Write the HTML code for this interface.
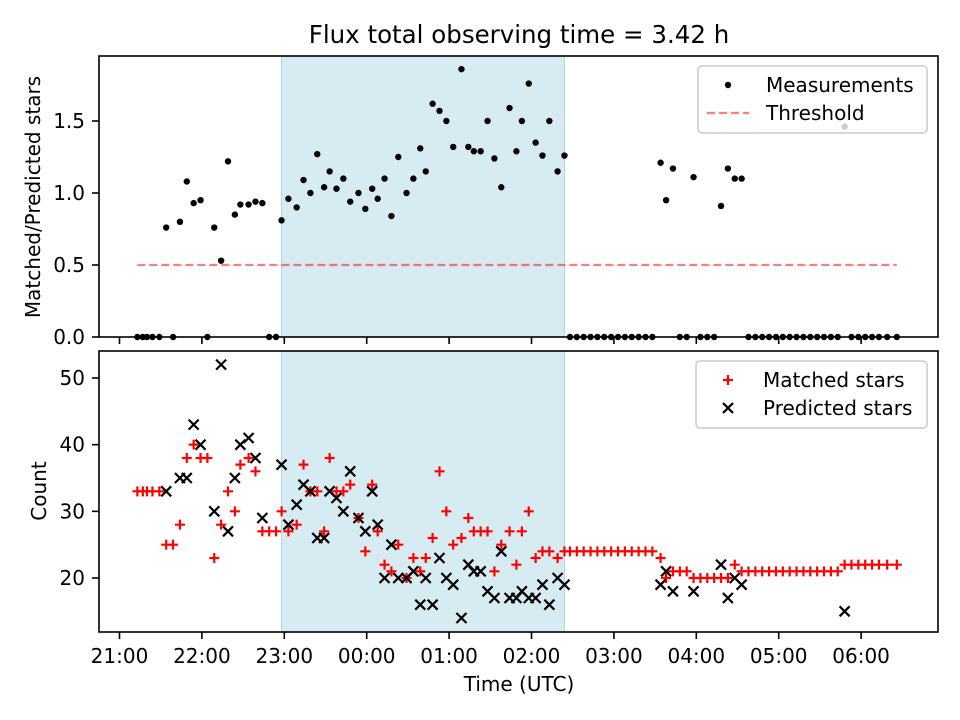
<!DOCTYPE html>
<html><head><meta charset="utf-8"><style>
html,body{margin:0;padding:0;background:#fff}
svg{display:block}
text{font-family:"DejaVu Sans","Liberation Sans",sans-serif;fill:#000}
</style></head><body>
<svg id="chart" width="960" height="720" viewBox="0 0 960 720" xmlns="http://www.w3.org/2000/svg">
<rect width="960" height="720" fill="#fff"/>
<text x="519" y="43" font-size="24.5" text-anchor="middle">Flux total observing time = 3.42 h</text>
<g id="topPanel"></g>
<g id="botPanel"></g>
</svg>
<script>
// minutes after 21:00 UTC
const times=[13,17,20,24,29,34,39,44,49,54,59,64,69,74,79,84,88,94,99,104,109,114,118,123,129,134,139,144,149,153,158,163,168,174,179,184,188,193,198,203,209,214,219,223,228,233,238,243,249,254,258,263,268,273,278,284,289,293,298,303,308,313,319,324,328,333,338,343,348,353,358,363,368,373,378,383,388,394,398,403,408,413,418,423,428,433,438,443,448,453,458,463,468,473,478,483,488,493,498,503,508,513,518,523,528,533,538,543,548,553,559,566];
const ratio=[0,0,0,0,0,0.76,0,0.80,1.08,0.93,0.95,0,0.76,0.53,1.22,0.85,0.92,0.92,0.94,0.93,0,0,0.81,0.96,0.90,1.09,1.00,1.27,1.04,1.15,1.03,1.10,0.94,1.00,0.89,1.03,0.96,1.10,0.84,1.25,1.00,1.10,1.31,1.15,1.62,1.57,1.50,1.32,1.86,1.32,1.29,1.29,1.50,1.24,1.04,1.59,1.29,1.50,1.76,1.35,1.26,1.50,1.15,1.26,0,0,0,0,0,0,0,0,0,0,0,0,0,1.21,0.95,1.17,0,0,1.11,0,0,0,0.91,1.17,1.10,1.10,0,0,0,0,0,0,0,0,0,0,0,0,0,0,1.46,0,0,0,0,0,0,0];
const matched=[33,33,33,33,33,25,25,28,38,40,38,38,23,28,33,30,37,38,36,27,27,27,30,27,28,37,33,33,27,38,33,33,34,29,24,34,27,22,21,25,20,23,21,23,26,36,30,25,26,29,27,27,27,21,25,27,22,27,30,23,24,24,23,24,24,24,24,24,24,24,24,24,24,24,24,24,24,23,20,21,21,21,20,20,20,20,20,20,22,21,21,21,21,21,21,21,21,21,21,21,21,21,21,21,22,22,22,22,22,22,22,22];
const predicted=[null,null,null,null,null,33,null,35,35,43,40,null,30,52,27,35,40,41,38,29,null,null,37,28,31,34,33,26,26,33,32,30,36,29,27,33,28,20,25,20,20,21,16,20,16,23,20,19,14,22,21,21,18,17,24,17,17,18,17,17,19,16,20,19,null,null,null,null,null,null,null,null,null,null,null,null,null,19,21,18,null,null,18,null,null,null,22,17,20,19,null,null,null,null,null,null,null,null,null,null,null,null,null,null,15,null,null,null,null,null,null,null];
const threshold=0.5;
const shadeStart=118, shadeEnd=324;
const xTickLabels=["21:00","22:00","23:00","00:00","01:00","02:00","03:00","04:00","05:00","06:00"];
const ratioTicks=[0,0.5,1.0,1.5];
const countTicks=[20,30,40,50];

const NS="http://www.w3.org/2000/svg";
const L=99,R=938;
const X=m=>119.5+m*82.4/60;
const Yt=v=>337-v*144;
const Yb=v=>578-(v-20)*6.667;
function mk(tag,attrs,parent){const e=document.createElementNS(NS,tag);for(const k in attrs)e.setAttribute(k,attrs[k]);parent.appendChild(e);return e;}
const gTop=document.getElementById('topPanel'), gBot=document.getElementById('botPanel');

function panel(g,y0,y1,name){
  const s=mk('rect',{x:X(shadeStart),y:y0,width:X(shadeEnd)-X(shadeStart),height:y1-y0,fill:'#add8e6','fill-opacity':0.5,stroke:'#add8e6','stroke-width':1},g);
  
  
}
panel(gTop,56,337,'top');
panel(gBot,351,632,'bottom');

const th=mk('line',{x1:X(times[0]),x2:X(times[times.length-1]),y1:Yt(threshold),y2:Yt(threshold),stroke:'#ff0000','stroke-opacity':0.5,'stroke-width':2.2,'stroke-dasharray':'8,4'},gTop);



times.forEach((t,i)=>{
  const c=mk('circle',{cx:X(t),cy:Yt(ratio[i]),r:3.2,fill:'#000'},gTop);
  
  
});
times.forEach((t,i)=>{
  if(matched[i]==null)return;
  const x=X(t),y=Yb(matched[i]);
  const p=mk('path',{d:`M${x-5} ${y}H${x+5}M${x} ${y-5}V${y+5}`,stroke:'#ff0000','stroke-width':2.2},gBot);
  
  
});
times.forEach((t,i)=>{
  if(predicted[i]==null)return;
  const x=X(t),y=Yb(predicted[i]);
  const p=mk('path',{d:`M${x-5} ${y-5}L${x+5} ${y+5}M${x-5} ${y+5}L${x+5} ${y-5}`,stroke:'#000','stroke-width':2.2},gBot);
  
  
});

function frame(g,y0,y1,name){
  const r=mk('rect',{x:L,y:y0,width:R-L,height:y1-y0,fill:'none',stroke:'#000','stroke-width':1.6},g);
  
  
}
frame(gTop,56,337,'top');frame(gBot,351,632,'bottom');
xTickLabels.forEach((lab,i)=>{
  const x=X(i*60);
  [[gTop,337],[gBot,632]].forEach(([g,yb])=>{
    const t=mk('line',{x1:x,x2:x,y1:yb,y2:yb+7,stroke:'#000','stroke-width':1.6},g);
    
    
  });
  const tx=mk('text',{x:x,y:663,'font-size':20,'text-anchor':'middle'},gBot);
  tx.textContent=lab;
  
  
});
ratioTicks.forEach(v=>{
  const y=Yt(v);
  const t=mk('line',{x1:92,x2:99,y1:y,y2:y,stroke:'#000','stroke-width':1.6},gTop);
  
  
  const tx=mk('text',{x:85,y:y+7,'font-size':20,'text-anchor':'end'},gTop);
  tx.textContent=v.toFixed(1);
  
  
});
countTicks.forEach(v=>{
  const y=Yb(v);
  const t=mk('line',{x1:92,x2:99,y1:y,y2:y,stroke:'#000','stroke-width':1.6},gBot);
  
  
  const tx=mk('text',{x:85,y:y+7,'font-size':20,'text-anchor':'end'},gBot);
  tx.textContent=v;
  
  
});
</script>
<svg style="position:absolute;left:0;top:0" width="960" height="720">
<text x="519" y="691" font-size="20" text-anchor="middle">Time (UTC)</text>
<text transform="translate(40,197) rotate(-90)" font-size="20" text-anchor="middle">Matched/Predicted stars</text>
<text transform="translate(46,491) rotate(-90)" font-size="20" text-anchor="middle">Count</text>
<g>
<rect x="698" y="66" width="229" height="67" rx="4" fill="#fff" fill-opacity="0.8" stroke="#ccc" stroke-width="1.6"/>
<circle cx="728" cy="85" r="3.2" fill="#000"/>
<text x="766" y="92" font-size="20">Measurements</text>
<line x1="707" x2="749" y1="113" y2="113" stroke="#ff0000" stroke-opacity="0.5" stroke-width="2.2" stroke-dasharray="8,4"/>
<text x="766" y="120" font-size="20">Threshold</text>
</g>
<g>
<rect x="696" y="361" width="231" height="67" rx="4" fill="#fff" fill-opacity="0.8" stroke="#ccc" stroke-width="1.6"/>
<path d="M723 380H733M728 375V385" stroke="#ff0000" stroke-width="2.2"/>
<text x="763" y="387" font-size="20">Matched stars</text>
<path d="M723 403L733 413M723 413L733 403" stroke="#000" stroke-width="2.2"/>
<text x="763" y="415" font-size="20">Predicted stars</text>
</g>
</svg>
</body></html>
